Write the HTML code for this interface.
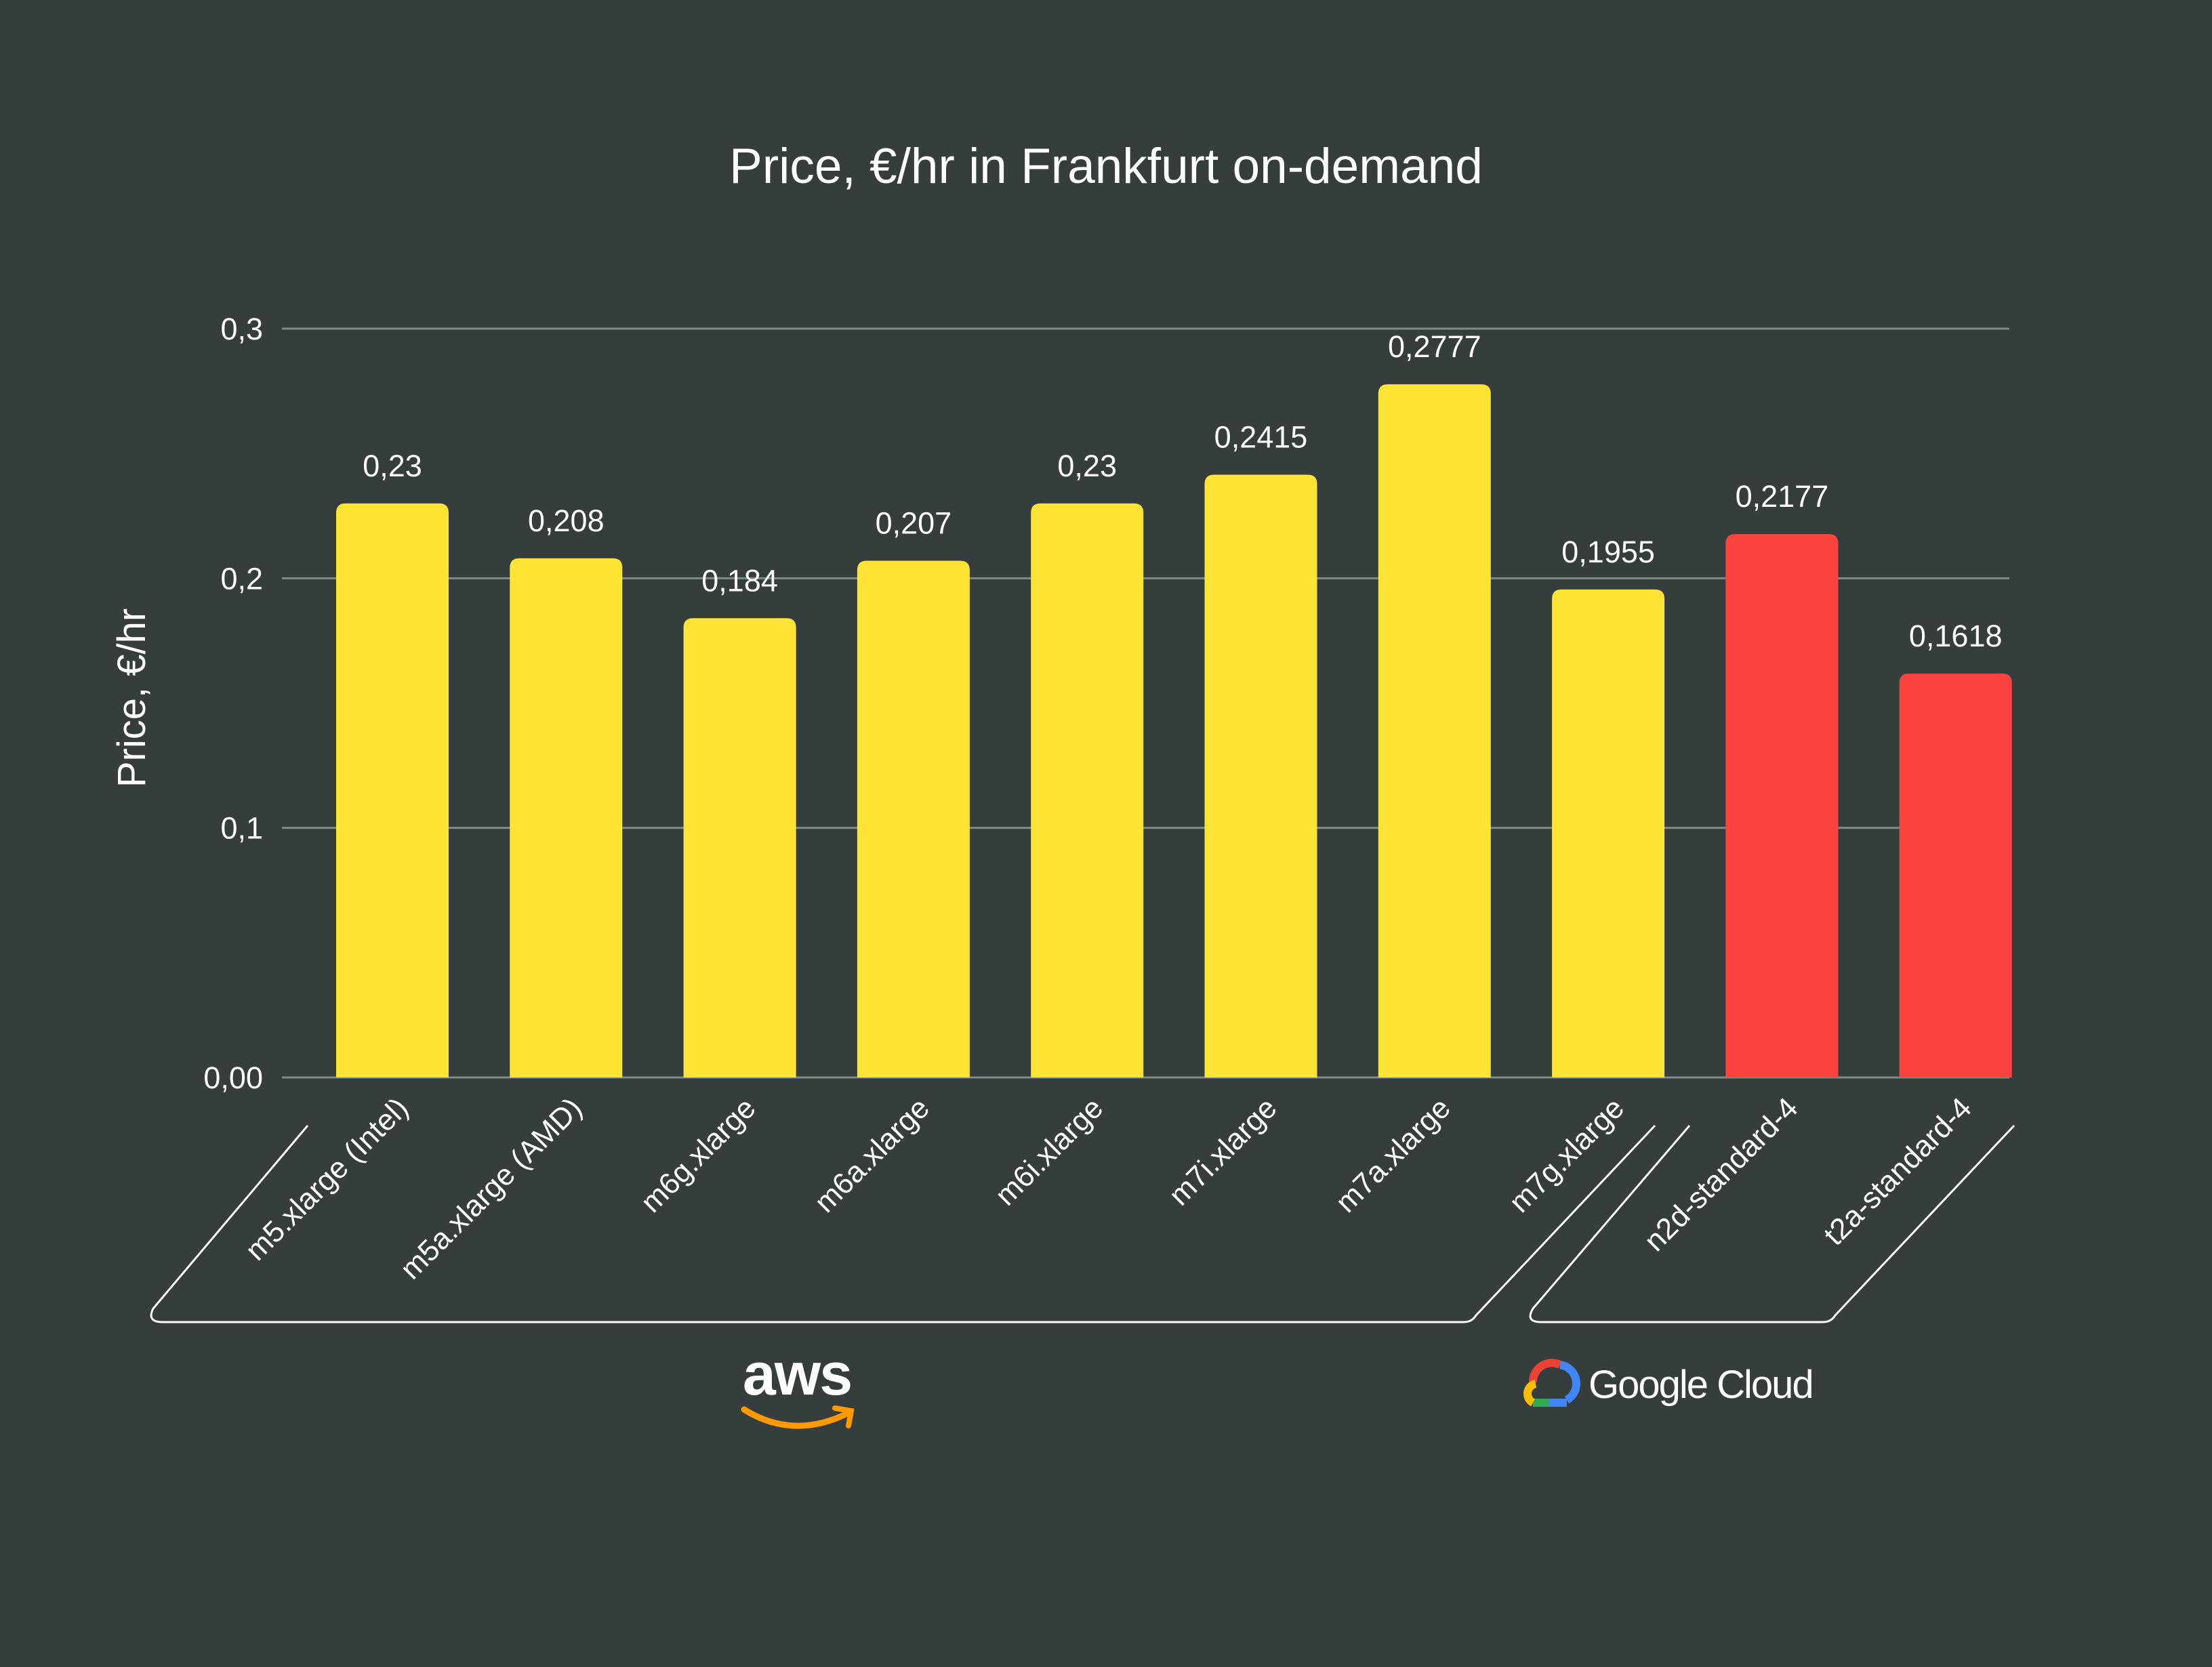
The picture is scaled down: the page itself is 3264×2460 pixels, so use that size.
<!DOCTYPE html>
<html><head><meta charset="utf-8"><style>
html,body{margin:0;padding:0;background:#363e3d;}
svg{display:block;font-family:"Liberation Sans",sans-serif;}
</style></head><body>
<svg id="chart" width="3264" height="2460" viewBox="0 0 3264 2460" xmlns="http://www.w3.org/2000/svg">
<rect width="3264" height="2460" fill="#363e3d"/>
<text x="1632" y="270" text-anchor="middle" font-size="73" fill="#ffffff">Price, €/hr in Frankfurt on-demand</text>
<text transform="translate(214,1030) rotate(-90)" text-anchor="middle" font-size="58" fill="#ffffff">Price, €/hr</text>
<g id="grid"></g><g id="bars"></g><g id="labels"></g>
<path d="M454,1661 L226,1931 Q216,1951 240,1951 L2160,1951 Q2172,1951 2178,1941 L2442,1661" fill="none" stroke="#ffffff" stroke-width="3"/>
<path d="M2493,1661 L2262,1931 Q2250,1951 2274,1951 L2690,1951 Q2702,1951 2708,1941 L2972,1661" fill="none" stroke="#ffffff" stroke-width="3"/>
<g>
<text x="1176" y="2058" text-anchor="middle" font-size="88" font-weight="bold" fill="#ffffff" letter-spacing="-2">aws</text>
<path d="M1098,2080 Q1170,2125 1250,2086" fill="none" stroke="#ff9900" stroke-width="9" stroke-linecap="round"/>
<path d="M1232,2078 L1256,2082 L1252,2104" fill="none" stroke="#ff9900" stroke-width="8" stroke-linecap="round"/>
</g>
<g>
<path d="M2262,2040 A28,28 0 0 1 2302,2014" fill="none" stroke="#ea4335" stroke-width="12"/>
<path d="M2302,2014 A28,28 0 0 1 2312,2066" fill="none" stroke="#4285f4" stroke-width="12"/>
<path d="M2286,2070 L2312,2070" stroke="#4285f4" stroke-width="12"/>
<path d="M2262,2070 L2286,2070" stroke="#34a853" stroke-width="12"/>
<path d="M2262,2070 A15,15 0 0 1 2266,2042" fill="none" stroke="#fbbc05" stroke-width="12"/>
<text x="2344" y="2063" font-size="58" fill="#ffffff" letter-spacing="-2">Google Cloud</text>
</g>
</svg>
<script>
const categories=["m5.xlarge (Intel)","m5a.xlarge (AMD)","m6g.xlarge","m6a.xlarge","m6i.xlarge","m7i.xlarge","m7a.xlarge","m7g.xlarge","n2d-standard-4","t2a-standard-4"];
const values=[0.23,0.208,0.184,0.207,0.23,0.2415,0.2777,0.1955,0.2177,0.1618];
const valueLabels=["0,23","0,208","0,184","0,207","0,23","0,2415","0,2777","0,1955","0,2177","0,1618"];
const providers=["aws","aws","aws","aws","aws","aws","aws","aws","gcp","gcp"];
const ticks=[0,0.1,0.2,0.3];
const tickLabels=["0,00","0,1","0,2","0,3"];
const NS="http://www.w3.org/2000/svg";
const y0=1590,yTop=485,yMax=0.3;
function yS(v){return y0-(v/yMax)*(y0-yTop);}
function xC(i){return 579+i*256.3;}
const bw=166;
const grid=document.getElementById('grid'),bars=document.getElementById('bars'),labels=document.getElementById('labels');
ticks.forEach((t,i)=>{
 const l=document.createElementNS(NS,'line');
 l.setAttribute('x1',416);l.setAttribute('x2',2965);l.setAttribute('y1',yS(t));l.setAttribute('y2',yS(t));
 l.setAttribute('stroke','#7d8c87');l.setAttribute('stroke-width',3);
 
 
 grid.appendChild(l);
 const tx=document.createElementNS(NS,'text');
 tx.setAttribute('x',388);tx.setAttribute('y',yS(t)+16);tx.setAttribute('text-anchor','end');
 tx.setAttribute('font-size',45);tx.setAttribute('fill','#ffffff');tx.textContent=tickLabels[i];
 
 
 grid.appendChild(tx);
});
values.forEach((v,i)=>{
 const x=xC(i)-bw/2,top=yS(v),r=14;
 const p=document.createElementNS(NS,'path');
 p.setAttribute('d',`M${x},${y0} L${x},${top+r} Q${x},${top} ${x+r},${top} L${x+bw-r},${top} Q${x+bw},${top} ${x+bw},${top+r} L${x+bw},${y0} Z`);
 p.setAttribute('fill',providers[i]==='aws'?'#ffe436':'#fc443e');
 
 
 bars.appendChild(p);
 const vt=document.createElementNS(NS,'text');
 vt.setAttribute('x',xC(i));vt.setAttribute('y',top-40);vt.setAttribute('text-anchor','middle');
 vt.setAttribute('font-size',45);vt.setAttribute('fill','#ffffff');vt.textContent=valueLabels[i];
 
 
 labels.appendChild(vt);
 const ct=document.createElementNS(NS,'text');
 ct.setAttribute('transform',`translate(${xC(i)+26},${y0+48}) rotate(-45)`);
 ct.setAttribute('text-anchor','end');ct.setAttribute('font-size',44);ct.setAttribute('fill','#ffffff');
 ct.textContent=categories[i];
 
 
 labels.appendChild(ct);
});
</script>
</body></html>
